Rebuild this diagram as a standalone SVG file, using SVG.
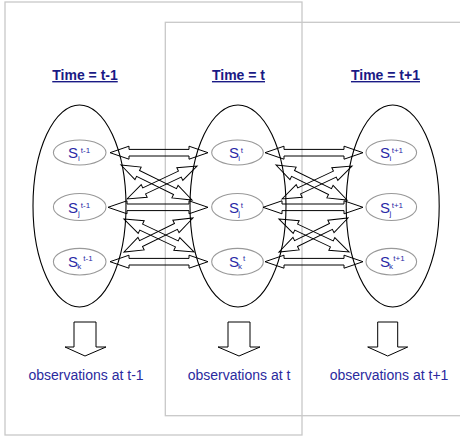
<svg xmlns="http://www.w3.org/2000/svg" width="460" height="439" viewBox="0 0 460 439">
<defs>
<style>
.frame{fill:none;stroke:#c8c8c8;stroke-width:1.3}
.big{fill:none;stroke:#000;stroke-width:1.1}
.st{fill:none;stroke:#999;stroke-width:1.1}
.arr{fill:none;stroke:#000;stroke-width:1}
.title{font-family:"Liberation Sans",Arial,sans-serif;font-size:14px;font-weight:bold;fill:#1a1a85;text-anchor:middle;text-decoration:underline}
.obs{font-family:"Liberation Sans",Arial,sans-serif;font-size:14px;fill:#2a2a9e;text-anchor:middle}
.s{font-family:"Liberation Sans",Arial,sans-serif;font-size:15px;fill:#2a2aa6}
.sm{font-family:"Liberation Sans",Arial,sans-serif;font-size:8px;fill:#2a2aa6}
</style>
<g id="links">
<path class="arr" transform="translate(110,152.7)" d="M0,0 L19,-6.5 L19,-3.3 L79,-3.3 L79,-6.5 L98,0 L79,6.5 L79,3.3 L19,3.3 L19,6.5 Z"/>
<path class="arr" transform="translate(108,207.3)" d="M0,0 L19,-6.5 L19,-3.3 L81,-3.3 L81,-6.5 L100,0 L81,6.5 L81,3.3 L19,3.3 L19,6.5 Z"/>
<path class="arr" transform="translate(110,261.7)" d="M0,0 L19,-6.5 L19,-3.3 L79,-3.3 L79,-6.5 L98,0 L79,6.5 L79,3.3 L19,3.3 L19,6.5 Z"/>
<path class="arr" transform="translate(121,165) rotate(26.24)" d="M0,0 L19,-7 L19,-3.3 L60.2,-3.3 L60.2,-7 L79.2,0 L60.2,7 L60.2,3.3 L19,3.3 L19,7 Z"/>
<path class="arr" transform="translate(127,199) rotate(-25.24)" d="M0,0 L19,-7 L19,-3.3 L58.4,-3.3 L58.4,-7 L77.4,0 L58.4,7 L58.4,3.3 L19,3.3 L19,7 Z"/>
<path class="arr" transform="translate(124,219) rotate(25.24)" d="M0,0 L19,-7 L19,-3.3 L58.4,-3.3 L58.4,-7 L77.4,0 L58.4,7 L58.4,3.3 L19,3.3 L19,7 Z"/>
<path class="arr" transform="translate(124,252) rotate(-26.23)" d="M0,0 L19,-7 L19,-3.3 L57.9,-3.3 L57.9,-7 L76.9,0 L57.9,7 L57.9,3.3 L19,3.3 L19,7 Z"/>
</g>
</defs>

<g id="frames">
<rect class="frame" x="5" y="2" width="297" height="433"/>
<rect class="frame" x="165.3" y="22.3" width="310" height="393.4"/>
</g>

<g id="col-t-1">
<text class="title" x="85" y="80">Time = t-1</text>
<ellipse class="big" cx="79.5" cy="206" rx="46.5" ry="101"/>
<path class="arr" d="M74,322 L96,322 L96,347 L106,347 L85,356 L65,347 L74,347 Z"/>
<text class="obs" x="86" y="380">observations at t-1</text>
</g>
<g id="S_i_t-1"><ellipse class="st" cx="79.7" cy="152.5" rx="26.3" ry="12.5"/><text class="s" x="68" y="157.7">S</text><text class="sm" x="78" y="161">i</text><text class="sm" x="80.8" y="153.3">t-1</text></g>
<g id="S_j_t-1"><ellipse class="st" cx="79.7" cy="207" rx="26.3" ry="13.5"/><text class="s" x="68" y="212.5">S</text><text class="sm" x="78" y="216">j</text><text class="sm" x="80.8" y="208">t-1</text></g>
<g id="S_k_t-1"><ellipse class="st" cx="79.7" cy="261.7" rx="26.3" ry="13.3"/><text class="s" x="68" y="266.7">S</text><text class="sm" x="77.3" y="269">k</text><text class="sm" x="83.3" y="261">t-1</text></g>

<g id="col-t">
<text class="title" x="238.5" y="80">Time = t</text>
<ellipse class="big" cx="238" cy="206" rx="48" ry="101"/>
<path class="arr" d="M228,322 L250,322 L250,347 L260,347 L239,356 L218,347 L228,347 Z"/>
<text class="obs" x="239" y="380">observations at t</text>
</g>
<g id="S_i_t"><ellipse class="st" cx="237.5" cy="152.5" rx="25.8" ry="12.5"/><text class="s" x="229" y="157.7">S</text><text class="sm" x="238.3" y="161">i</text><text class="sm" x="240.7" y="153.3">t</text></g>
<g id="S_j_t"><ellipse class="st" cx="237.5" cy="207" rx="25.8" ry="13.5"/><text class="s" x="229" y="212.5">S</text><text class="sm" x="238.3" y="216">j</text><text class="sm" x="240.7" y="208">t</text></g>
<g id="S_k_t"><ellipse class="st" cx="237.5" cy="261.7" rx="25.8" ry="13.3"/><text class="s" x="229" y="266.7">S</text><text class="sm" x="238" y="269">k</text><text class="sm" x="243" y="261">t</text></g>

<g id="col-t+1">
<text class="title" x="385.5" y="80">Time = t+1</text>
<ellipse class="big" cx="392.7" cy="206" rx="46.5" ry="101"/>
<path class="arr" d="M377.7,322 L397.7,322 L397.7,347 L407.7,347 L387.7,356 L367.7,347 L377.7,347 Z"/>
<text class="obs" x="389" y="380">observations at t+1</text>
</g>
<g id="S_i_t+1"><ellipse class="st" cx="391.3" cy="152.5" rx="25.3" ry="12.5"/><text class="s" x="380" y="157.7">S</text><text class="sm" x="389.5" y="161">i</text><text class="sm" x="391.7" y="153.3">t+1</text></g>
<g id="S_j_t+1"><ellipse class="st" cx="391.3" cy="207" rx="25.3" ry="13.5"/><text class="s" x="380" y="212.5">S</text><text class="sm" x="389.5" y="216">j</text><text class="sm" x="391.7" y="208">t+1</text></g>
<g id="S_k_t+1"><ellipse class="st" cx="391.3" cy="261.7" rx="25.3" ry="13.3"/><text class="s" x="380" y="266.7">S</text><text class="sm" x="389" y="269">k</text><text class="sm" x="393.3" y="261">t+1</text></g>

<g id="connectors">
<use href="#links"/>
<use href="#links" transform="translate(155,0)"/>
</g>
</svg>
